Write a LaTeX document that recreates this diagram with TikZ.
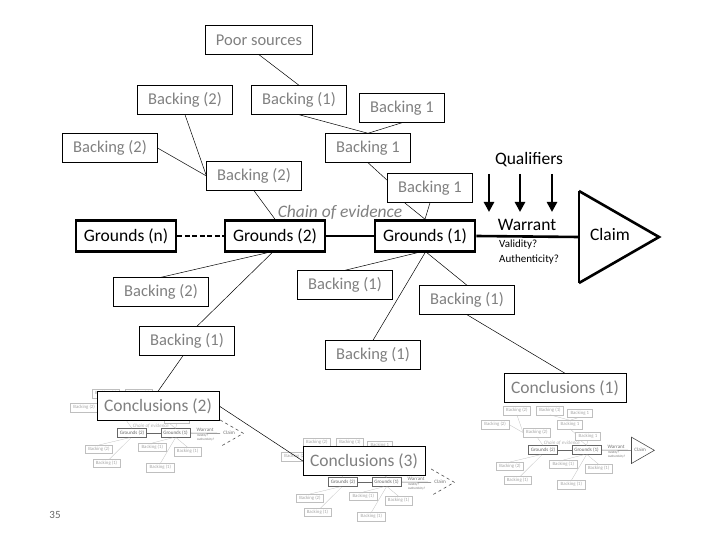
\documentclass[tikz,border=0pt]{standalone}
\usepackage{fontspec}
\setmainfont{Carlito}
\usetikzlibrary{arrows.meta}

\newcommand{\bfont}{\fontsize{16.5}{18}\selectfont}
\newcommand{\kfont}{\fontsize{17.5}{19}\selectfont}
\newcommand{\sfont}{\fontsize{11}{15}\selectfont}

\tikzset{
  backing/.style={draw, fill=white, text=black!50, inner xsep=10.5pt, minimum height=29pt, font=\bfont},
  grounds/.style={draw, line width=2.6pt, fill=white, text=black, inner xsep=8pt, minimum height=31pt, font=\kfont},
  concl/.style={draw, fill=white, text=black!50, inner xsep=7pt, minimum height=29pt, font=\kfont},
  plain/.style={text=black, font=\kfont, inner sep=1pt},
  chaintext/.style={text=black!50, font=\kfont\itshape, inner sep=1pt},
  link/.style={draw=black, line width=0.5pt},
  chain/.style={draw=black, line width=2.6pt},
  claimtri/.style={draw=black, line width=2.6pt, line join=miter},
  claimback/.style={claimtri},
  qarrow/.style={draw=black, line width=2.6pt, -{Triangle[width=10pt,length=10pt]}},
  % looks of the small faded copies
  openclaim/.style={claimtri/.style={draw=black!70, line width=0.6pt, dashed}, claimback/.style={draw=none}},
  shutclaim/.style={claimtri/.style={draw=black!70, line width=0.6pt}, claimback/.style={claimtri}},
}

% one argument slide, used full size and as small faded copies
\newcommand{\corediagram}{
  % backing above the grounds
  \node[backing] (btl) at (185,100) {Backing (2)};
  \node[backing] (bk1) at (299,100) {Backing (1)};
  \node[backing] (btr) at (402,108) {Backing 1};
  \node[backing] (bl)  at (110,148) {Backing (2)};
  \node[backing] (bm)  at (368,148) {Backing 1};
  \node[backing] (bc)  at (254,176) {Backing (2)};
  \node[backing] (bl1) at (430,188) {Backing 1};
  \node[chaintext] (chain) at (340,212) {Chain of evidence};

  % grounds, warrant and claim
  \node[grounds] (g2) at (275,236) {Grounds (2)};
  \node[grounds] (g1) at (425,236) {Grounds (1)};
  \node[plain] (warrant) at (527,225) {Warrant};
  \node[plain, font=\sfont, anchor=north west, align=left] (valid) at (498,239) {Validity?\\Authenticity?};
  \coordinate (tri-l) at (579,237);
  \coordinate (tri-t) at (579,191);
  \coordinate (tri-b) at (579,283);
  \coordinate (tri-r) at (659,237);
  \node[plain] (claim) at (610,234) {Claim};
  \draw[claimtri] (tri-t) -- (tri-r) -- (tri-b);
  \draw[claimback] (tri-b) -- (tri-t);

  % backing below the grounds
  \node[backing] (bl2) at (161,292) {Backing (2)};
  \node[backing] (bll) at (187,341) {Backing (1)};
  \node[backing] (bc1) at (345,285) {Backing (1)};
  \node[backing] (br1) at (467,300) {Backing (1)};
  \node[backing] (bb1) at (373,355) {Backing (1)};

  \draw[link] (bk1.south) -- (bm.north);
  \draw[link] (btr.south) -- (bm.north);
  \draw[link] (btl.south) -- (bc.west);
  \draw[link] (bl.east) -- (bc.west);
  \draw[link] (bm.south) -- (bl1.170);
  \draw[link] (bc.south) -- (g2.north);
  \draw[link] (bl1.-150) -- (g1.north);
  \draw[link] (bl1.south) -- (g1.north);
  \draw[link] ([xshift=-3pt]g2.south) -- ([xshift=10pt]bll.north);
  \draw[link] ([xshift=-8pt]g2.south) -- (bl2.north);
  \draw[link] ([xshift=-8pt]g1.south) -- (bc1.north);
  \draw[link] (g1.south) -- (bb1.north);
  \draw[link] ([xshift=2pt]g1.south) -- (br1.north);

  \draw[chain] (g2.east) -- (g1.west);
  \draw[chain] (g1.east) -- (tri-l);
}

\begin{document}
\begin{tikzpicture}[x=1pt, y=-1pt]
  \useasboundingbox (0,0) rectangle (720,540);

  % faded copies of earlier slides
  \foreach \sx/\sy/\claimlook in {52.25/364.6/openclaim, 263.25/413.6/openclaim, 463.25/381.6/shutclaim} {
    \begin{scope}[shift={(\sx,\sy)}, scale=0.29, transform shape,
        backing/.style={draw=black!25, fill=white, text=black!35, inner xsep=10.5pt, minimum height=29pt, font=\bfont},
        grounds/.style={draw=black!60, line width=0.8pt, fill=white, text=black!60, inner xsep=8pt, minimum height=31pt, font=\kfont},
        plain/.style={text=black!55, font=\kfont, inner sep=1pt},
        chaintext/.style={text=black!30, font=\kfont\itshape, inner sep=1pt},
        link/.style={draw=black!25, line width=0.3pt},
        chain/.style={draw=black!60, line width=0.6pt},
        \claimlook]
      \corediagram
    \end{scope}
  }

  % the slide itself
  \corediagram
  \node[backing] (poor) at (259,40) {Poor sources};
  \draw[link] (poor.south) -- (bk1.north);
  \node[grounds] (gn) at (126,236) {Grounds (n)};
  \draw[chain, dashed, dash pattern=on 5pt off 2.5pt] (gn.east) -- (g2.west);

  \node[plain] (qual) at (529,160) {Qualifiers};
  \foreach \qx in {489,520,552} {
    \coordinate (q-top) at (\qx,174);
    \coordinate (q-end) at (\qx,212);
    \draw[qarrow] (q-top) -- (q-end);
  }

  % conclusions
  \node[concl] (c1) at (565,388) {Conclusions (1)};
  \node[concl] (c2) at (158,406) {Conclusions (2)};
  \node[concl] (c3) at (364,461) {Conclusions (3)};
  \draw[link] (br1.south) -- (c1.north);
  \draw[link] ([xshift=-4pt]bll.south) -- (c2.north);
  \draw[link] (c2.east) -- (c3.west);

  \node[text=black!60, font=\fontsize{11}{13}\selectfont] (page) at (55,515) {35};
\end{tikzpicture}
\end{document}
